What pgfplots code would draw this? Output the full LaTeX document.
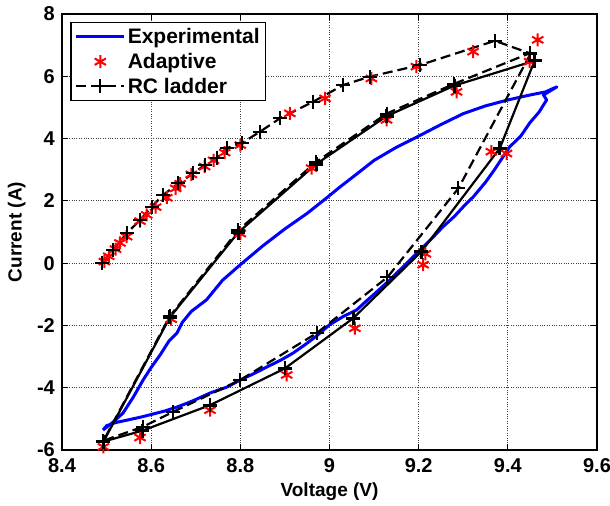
\documentclass[border=0pt]{standalone}
\usepackage{fontspec}
\setmainfont{Liberation Sans}
\usepackage{pgfplots}
\pgfplotsset{compat=1.18}
\begin{document}
\begin{tikzpicture}
\begin{axis}[
  scale only axis,
  width=535pt, height=436pt,
  xmin=8.4, xmax=9.6, ymin=-6, ymax=8,
  xtick={8.4,8.6,8.8,9,9.2,9.4,9.6},
  ytick={-6,-4,-2,0,2,4,6,8},
  xticklabels={8.4,8.6,8.8,9,9.2,9.4,9.6},
  yticklabels={-6,-4,-2,0,2,4,6,8},
  tick align=inside,
  major tick length=6pt,
  tick style={line width=1pt, black},
  axis line style={line width=1.8pt},
  grid=major,
  grid style={dotted, line width=0.9pt, black!75},
  ticklabel style={font=\fontsize{20}{22}\selectfont\bfseries},
  xticklabel style={inner sep=1pt, yshift=-7pt},
  yticklabel style={inner sep=1pt, xshift=-6pt},
  xlabel={Voltage (V)}, ylabel={Current (A)},
  label style={font=\fontsize{19}{21}\selectfont\bfseries},
  xlabel style={yshift=-6pt},
  ylabel style={yshift=7pt},
  legend style={at={(0.015,0.982)}, anchor=north west, draw=black, line width=1.5pt,
    font=\fontsize{21}{23}\selectfont\bfseries, row sep=4pt, inner sep=4pt,
    cells={anchor=west}},
  legend image code/.code={\draw[mark repeat=2,mark phase=2,#1] plot coordinates {(0pt,0pt) (24pt,0pt) (48pt,0pt)};},
]
% Experimental
\addplot[blue, line width=3pt, line join=round] coordinates {
(8.492,-5.36) (8.500,-5.22) (8.520,-5.12) (8.546,-5.04) (8.575,-4.95) (8.600,-4.86) (8.630,-4.75) (8.658,-4.62)
(8.680,-4.50) (8.700,-4.38) (8.732,-4.17) (8.770,-3.98) (8.800,-3.75) (8.830,-3.55) (8.860,-3.33) (8.890,-3.12)
(8.918,-2.89) (8.945,-2.62) (8.970,-2.35) (9.000,-1.98) (9.030,-1.72) (9.061,-1.50) (9.080,-1.25) (9.100,-1.00)
(9.135,-0.54) (9.170,-0.05) (9.203,0.42) (9.230,0.80) (9.254,1.16) (9.280,1.50) (9.308,1.93) (9.322,2.12)
(9.350,2.60) (9.370,3.00) (9.389,3.41) (9.404,3.73) (9.430,4.10) (9.449,4.50) (9.470,4.85) (9.487,5.24)
(9.480,5.40) (9.510,5.66) (9.500,5.60) (9.485,5.50) (9.450,5.40) (9.400,5.24) (9.350,5.05) (9.300,4.80)
(9.250,4.45) (9.196,4.05) (9.150,3.72) (9.100,3.30) (9.060,2.85) (9.023,2.44) (8.994,2.10) (8.950,1.60)
(8.900,1.10) (8.850,0.55) (8.800,-0.05) (8.760,-0.55) (8.724,-1.18) (8.690,-1.55) (8.670,-1.90) (8.658,-2.24)
(8.640,-2.50) (8.620,-2.95) (8.600,-3.35) (8.582,-3.75) (8.560,-4.30) (8.537,-4.81) (8.515,-5.10) (8.492,-5.36)
};
\addlegendentry{Experimental}
% Adaptive
\addplot[only marks, red, mark=asterisk, mark size=6.5pt, mark options={line width=2pt}] coordinates {
(8.495,0.05) (8.505,0.22) (8.520,0.45) (8.530,0.65) (8.545,0.85) (8.575,1.35) (8.590,1.55) (8.610,1.80)
(8.635,2.10) (8.655,2.40) (8.665,2.55) (8.690,2.85) (8.720,3.10) (8.740,3.30) (8.765,3.55) (8.800,3.79)
(8.911,4.81) (8.990,5.29) (9.094,5.93) (9.195,6.31) (9.322,6.79) (9.467,7.17)
(9.449,6.47) (9.285,5.50) (9.128,4.60) (8.960,3.05) (8.800,0.95) (8.645,-1.80) (8.493,-5.90)
(8.575,-5.60) (8.732,-4.72) (8.904,-3.59) (9.057,-2.09) (9.210,-0.05) (9.215,0.30) (9.363,3.58) (9.397,3.52)
};
\addlegendentry{Adaptive}
% RC ladder
\addplot[black, line width=2.2pt, dash pattern=on 10pt off 5pt, mark=+, mark size=7pt,
  mark options={solid, line width=2pt}] coordinates {
(8.490,0.00) (8.515,0.42) (8.545,0.96) (8.575,1.38) (8.601,1.81) (8.627,2.19) (8.661,2.56) (8.694,2.88)
(8.720,3.15) (8.747,3.37) (8.769,3.69) (8.803,3.85) (8.844,4.22) (8.889,4.65) (8.963,5.18) (9.031,5.72)
(9.091,5.99) (9.203,6.36) (9.371,7.14) (9.449,6.74)
(9.280,5.76) (9.128,4.80) (8.970,3.25) (8.795,1.05) (8.642,-1.70) (8.493,-5.70)
(8.582,-5.25) (8.650,-4.77) (8.800,-3.75) (8.971,-2.25) (9.130,-0.45) (9.289,2.40) (9.450,6.70)
};
\addlegendentry{RC ladder}
\addplot[black, line width=2.2pt, mark=+, mark size=7pt, mark options={solid, line width=2.8pt}, forget plot] coordinates {
(8.493,-5.73) (8.580,-5.38) (8.732,-4.56) (8.900,-3.38) (9.053,-1.77) (9.206,0.37) (9.382,3.69) (9.460,6.50)
(9.280,5.70) (9.128,4.72) (8.970,3.18) (8.795,0.98) (8.642,-1.74) (8.493,-5.73)
};
\end{axis}
\pgfresetboundingbox
\path ([shift={(-62pt,-55pt)}]current axis.south west) rectangle ([shift={(13pt,14pt)}]current axis.north east);
\end{tikzpicture}
\end{document}
